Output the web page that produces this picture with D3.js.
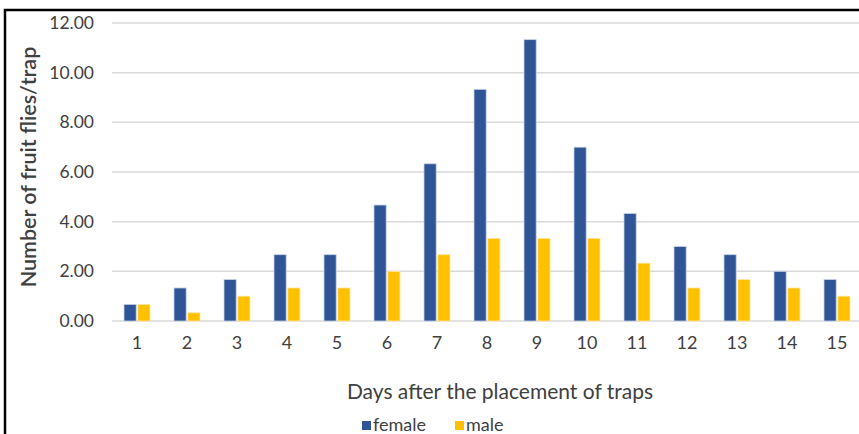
<!DOCTYPE html>
<html><head><meta charset="utf-8">
<script src="https://cdn.jsdelivr.net/npm/d3@7"></script>
<style>
html,body{margin:0;padding:0;background:#fff;}
svg{display:block;}
text{font-family:Lato,"Open Sans",sans-serif;fill:#404040;}
</style></head>
<body>
<svg id="chart" width="859" height="434"></svg>
<script>
const days = ["1","2","3","4","5","6","7","8","9","10","11","12","13","14","15"];
const seriesNames = ["female","male"];
const female = [0.67,1.33,1.67,2.67,2.67,4.67,6.33,9.33,11.33,7.0,4.33,3.0,2.67,2.0,1.67];
const male = [0.67,0.33,1.0,1.33,1.33,2.0,2.67,3.33,3.33,3.33,2.33,1.33,1.67,1.33,1.0];
const yTicks = [0,2,4,6,8,10,12];
const colors = ["#2F5597","#FFC000"];
const yTitle = "Number of fruit flies/trap";
const xTitle = "Days after the placement of traps";

const svg = d3.select("#chart");
const W = 859, H = 434;
const plot = {left:112, right:862, top:23, bottom:321};

// outer border
svg.append("rect").attr("x",5).attr("y",10).attr("width",W+10).attr("height",H+10)
  .attr("fill","none").attr("stroke","#000").attr("stroke-width",2.5);

const x = d3.scaleBand().domain(days).range([plot.left, plot.right]).paddingInner(0).paddingOuter(0);
const y = d3.scaleLinear().domain([0,12]).range([plot.bottom, plot.top]);

// gridlines
svg.append("g").selectAll("line").data(yTicks).join("line")
  .attr("x1",plot.left).attr("x2",plot.right)
  .attr("y1",d=>y(d)).attr("y2",d=>y(d))
  .attr("stroke","#d9d9d9").attr("stroke-width",1.5);

// y axis labels
const yAxis = d3.axisLeft(y).tickValues(yTicks).tickFormat(d3.format(".2f")).tickSize(0).tickPadding(18);
const gy = svg.append("g").attr("transform",`translate(${plot.left},0)`).call(yAxis);
gy.select(".domain").remove();
gy.selectAll("text").style("font-family","Lato,sans-serif").style("font-size","17.5px").attr("fill","#404040");

// x axis labels
const xAxis = d3.axisBottom(x).tickSize(0).tickPadding(15);
const gx = svg.append("g").attr("transform",`translate(0,${plot.bottom})`).call(xAxis);
gx.select(".domain").remove();
gx.selectAll("text").style("font-family","Lato,sans-serif").style("font-size","18px").attr("fill","#404040");

// bars
const inner = d3.scaleBand().domain(seriesNames).range([0, 26]).paddingInner(0.12);
const data = days.map((d,i)=>({day:d, vals:[female[i], male[i]]}));
const groups = svg.append("g").selectAll("g").data(data).join("g")
  .attr("transform",d=>`translate(${x(d.day)+x.bandwidth()/2-13},0)`);
groups.selectAll("rect").data(d=>d.vals.map((v,j)=>({s:seriesNames[j], v, j}))).join("rect")
  .attr("x",d=>inner(d.s))
  .attr("width",inner.bandwidth())
  .attr("y",d=>y(d.v))
  .attr("height",d=>plot.bottom - y(d.v))
  .attr("fill",d=>colors[d.j])
  .attr("stroke",d=>d.j===0?"#c9d3e6":"#ffe9a8").attr("stroke-width",0.8);

// axis titles
svg.append("text").attr("transform",`translate(28,167) rotate(-90)`)
  .attr("text-anchor","middle").attr("dominant-baseline","central")
  .style("font-size","21.5px").style("font-weight","600").attr("fill","#262626").text(yTitle);
svg.append("text").attr("x",500).attr("y",399).attr("text-anchor","middle")
  .style("font-size","21px").attr("fill","#404040").text(xTitle);

// legend
const legend = svg.append("g");
const lx = [362, 455];
seriesNames.forEach((s,i)=>{
  legend.append("rect").attr("x",lx[i]).attr("y",421).attr("width",9).attr("height",9).attr("fill",colors[i]);
  legend.append("text").attr("x",lx[i]+11).attr("y",430.5).style("font-size","18px").attr("fill","#404040").text(s);
});
</script>
</body></html>
